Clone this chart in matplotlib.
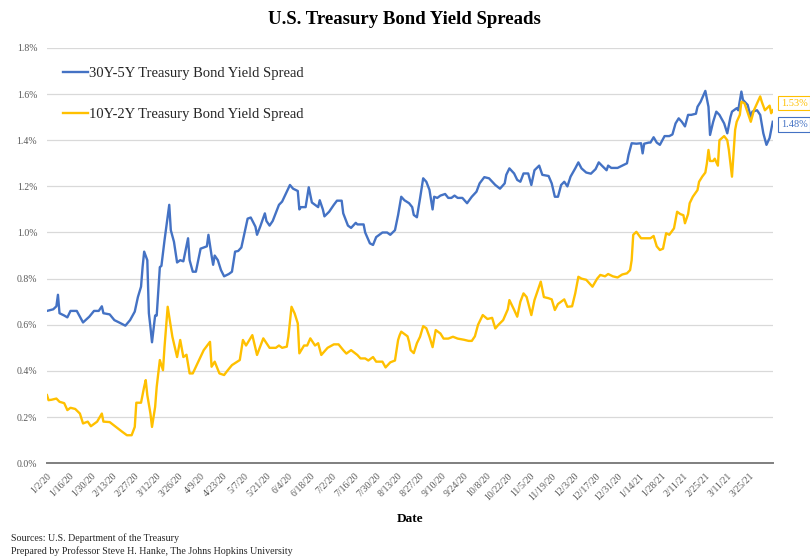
import matplotlib
matplotlib.use("Agg")
import matplotlib.pyplot as plt
import pandas as pd

# 30Y-5Y Treasury spread (percentage points)
spread_30y5y_dates = [
    "2020-01-02", "2020-01-06", "2020-01-08", "2020-01-09", "2020-01-10", "2020-01-13", "2020-01-15",
    "2020-01-17", "2020-01-21", "2020-01-25", "2020-01-29", "2020-02-01", "2020-02-04", "2020-02-06",
    "2020-02-07", "2020-02-11", "2020-02-14", "2020-02-17", "2020-02-21", "2020-02-24", "2020-02-27",
    "2020-02-29", "2020-03-02", "2020-03-03", "2020-03-04", "2020-03-06", "2020-03-07", "2020-03-08",
    "2020-03-09", "2020-03-11", "2020-03-12", "2020-03-14", "2020-03-15", "2020-03-17", "2020-03-20",
    "2020-03-21", "2020-03-23", "2020-03-25", "2020-03-27", "2020-03-29", "2020-04-01", "2020-04-02",
    "2020-04-04", "2020-04-06", "2020-04-09", "2020-04-13", "2020-04-14", "2020-04-16", "2020-04-17",
    "2020-04-18", "2020-04-20", "2020-04-22", "2020-04-24", "2020-04-27", "2020-04-29", "2020-05-01",
    "2020-05-03", "2020-05-05", "2020-05-08", "2020-05-09", "2020-05-11", "2020-05-14", "2020-05-15",
    "2020-05-17", "2020-05-20", "2020-05-21", "2020-05-23", "2020-05-25", "2020-05-29", "2020-05-31",
    "2020-06-03", "2020-06-05", "2020-06-07", "2020-06-10", "2020-06-11", "2020-06-12", "2020-06-15",
    "2020-06-17", "2020-06-19", "2020-06-21", "2020-06-23", "2020-06-24", "2020-06-26", "2020-06-27",
    "2020-06-30", "2020-07-03", "2020-07-05", "2020-07-08", "2020-07-09", "2020-07-12", "2020-07-14",
    "2020-07-17", "2020-07-18", "2020-07-22", "2020-07-23", "2020-07-26", "2020-07-28", "2020-07-30",
    "2020-08-03", "2020-08-06", "2020-08-08", "2020-08-11", "2020-08-13", "2020-08-15", "2020-08-17",
    "2020-08-20", "2020-08-22", "2020-08-23", "2020-08-25", "2020-08-27", "2020-08-29", "2020-08-31",
    "2020-09-02", "2020-09-04", "2020-09-05", "2020-09-07", "2020-09-09", "2020-09-12", "2020-09-14",
    "2020-09-16", "2020-09-18", "2020-09-20", "2020-09-23", "2020-09-26", "2020-09-29", "2020-10-02",
    "2020-10-04", "2020-10-07", "2020-10-10", "2020-10-14", "2020-10-17", "2020-10-20", "2020-10-21",
    "2020-10-23", "2020-10-26", "2020-10-28", "2020-10-30", "2020-11-01", "2020-11-04", "2020-11-06",
    "2020-11-08", "2020-11-11", "2020-11-13", "2020-11-17", "2020-11-19", "2020-11-21", "2020-11-23",
    "2020-11-25", "2020-11-27", "2020-11-29", "2020-12-01", "2020-12-04", "2020-12-06", "2020-12-08",
    "2020-12-11", "2020-12-14", "2020-12-17", "2020-12-19", "2020-12-21", "2020-12-24", "2020-12-25",
    "2020-12-27", "2020-12-31", "2021-01-03", "2021-01-06", "2021-01-07", "2021-01-09", "2021-01-12",
    "2021-01-15", "2021-01-16", "2021-01-17", "2021-01-20", "2021-01-21", "2021-01-23", "2021-01-25",
    "2021-01-27", "2021-01-30", "2021-02-02", "2021-02-04", "2021-02-06", "2021-02-08", "2021-02-10",
    "2021-02-12", "2021-02-14", "2021-02-16", "2021-02-19", "2021-02-20", "2021-02-22", "2021-02-25",
    "2021-02-27", "2021-02-28", "2021-03-02", "2021-03-04", "2021-03-06", "2021-03-09", "2021-03-11",
    "2021-03-13", "2021-03-14", "2021-03-17", "2021-03-18", "2021-03-20", "2021-03-21", "2021-03-24",
    "2021-03-26", "2021-03-27", "2021-03-30", "2021-04-01", "2021-04-03", "2021-04-05", "2021-04-07",
    "2021-04-09",
]
spread_30y5y = [
    0.66, 0.667, 0.68, 0.73, 0.65, 0.64, 0.632,
    0.66, 0.66, 0.61, 0.635, 0.66, 0.66, 0.68,
    0.65, 0.645, 0.62, 0.61, 0.596, 0.62, 0.657,
    0.72, 0.765, 0.85, 0.917, 0.88, 0.65, 0.59,
    0.524, 0.64, 0.64, 0.85, 0.855, 0.967, 1.12,
    1.01, 0.96, 0.87, 0.88, 0.875, 0.975, 0.88,
    0.83, 0.83, 0.93, 0.94, 0.99, 0.90, 0.86,
    0.90, 0.88, 0.837, 0.81, 0.82, 0.83, 0.917,
    0.92, 0.935, 1.03, 1.06, 1.065, 1.025, 0.99,
    1.025, 1.083, 1.05, 1.03, 1.05, 1.12, 1.134,
    1.177, 1.206, 1.19, 1.18, 1.10, 1.11, 1.11,
    1.196, 1.13, 1.12, 1.11, 1.14, 1.10, 1.07,
    1.09, 1.12, 1.138, 1.138, 1.083, 1.03, 1.02,
    1.042, 1.035, 1.035, 1.0, 0.953, 0.946, 0.98,
    1.0, 1.0, 0.99, 1.01, 1.076, 1.155, 1.14,
    1.127, 1.11, 1.076, 1.066, 1.148, 1.235, 1.22,
    1.185, 1.10, 1.155, 1.15, 1.16, 1.167, 1.15,
    1.15, 1.16, 1.15, 1.15, 1.127, 1.155, 1.177,
    1.213, 1.24, 1.235, 1.206, 1.19, 1.213, 1.25,
    1.278, 1.256, 1.228, 1.22, 1.256, 1.256, 1.206,
    1.27, 1.29, 1.25, 1.245, 1.213, 1.155, 1.155,
    1.206, 1.22, 1.20, 1.242, 1.278, 1.304, 1.278,
    1.26, 1.255, 1.275, 1.304, 1.29, 1.27, 1.29,
    1.28, 1.28, 1.29, 1.30, 1.336, 1.387, 1.385,
    1.387, 1.343, 1.385, 1.39, 1.39, 1.413, 1.39,
    1.38, 1.418, 1.418, 1.425, 1.473, 1.495, 1.48,
    1.46, 1.51, 1.51, 1.515, 1.545, 1.567, 1.614,
    1.545, 1.423, 1.48, 1.524, 1.51, 1.473, 1.43,
    1.50, 1.524, 1.539, 1.53, 1.611, 1.575, 1.553,
    1.50, 1.524, 1.53, 1.51, 1.43, 1.38, 1.41,
    1.48,
]

# 10Y-2Y Treasury spread (percentage points)
spread_10y2y_dates = [
    "2020-01-02", "2020-01-03", "2020-01-05", "2020-01-08", "2020-01-10", "2020-01-13", "2020-01-15",
    "2020-01-17", "2020-01-20", "2020-01-23", "2020-01-25", "2020-01-28", "2020-01-30", "2020-02-01",
    "2020-02-03", "2020-02-06", "2020-02-07", "2020-02-11", "2020-02-15", "2020-02-19", "2020-02-22",
    "2020-02-25", "2020-02-27", "2020-02-28", "2020-03-02", "2020-03-04", "2020-03-05", "2020-03-06",
    "2020-03-08", "2020-03-09", "2020-03-11", "2020-03-12", "2020-03-14", "2020-03-16", "2020-03-17",
    "2020-03-19", "2020-03-22", "2020-03-24", "2020-03-25", "2020-03-27", "2020-03-29", "2020-03-31",
    "2020-04-02", "2020-04-04", "2020-04-08", "2020-04-11", "2020-04-15", "2020-04-16", "2020-04-18",
    "2020-04-21", "2020-04-24", "2020-04-26", "2020-04-29", "2020-05-04", "2020-05-06", "2020-05-08",
    "2020-05-12", "2020-05-15", "2020-05-19", "2020-05-23", "2020-05-27", "2020-05-29", "2020-05-31",
    "2020-06-03", "2020-06-04", "2020-06-06", "2020-06-08", "2020-06-10", "2020-06-11", "2020-06-14",
    "2020-06-16", "2020-06-18", "2020-06-21", "2020-06-23", "2020-06-25", "2020-06-29", "2020-07-03",
    "2020-07-06", "2020-07-09", "2020-07-11", "2020-07-14", "2020-07-18", "2020-07-20", "2020-07-23",
    "2020-07-25", "2020-07-28", "2020-07-30", "2020-08-03", "2020-08-05", "2020-08-08", "2020-08-11",
    "2020-08-13", "2020-08-14", "2020-08-15", "2020-08-19", "2020-08-20", "2020-08-21", "2020-08-23",
    "2020-08-25", "2020-08-27", "2020-08-29", "2020-08-31", "2020-09-02", "2020-09-04", "2020-09-06",
    "2020-09-09", "2020-09-11", "2020-09-14", "2020-09-17", "2020-09-20", "2020-09-24", "2020-09-27",
    "2020-09-29", "2020-10-01", "2020-10-03", "2020-10-06", "2020-10-09", "2020-10-12", "2020-10-14",
    "2020-10-16", "2020-10-19", "2020-10-22", "2020-10-23", "2020-10-26", "2020-10-28", "2020-10-30",
    "2020-11-01", "2020-11-03", "2020-11-06", "2020-11-08", "2020-11-12", "2020-11-14", "2020-11-17",
    "2020-11-19", "2020-11-21", "2020-11-23", "2020-11-27", "2020-11-29", "2020-12-02", "2020-12-04",
    "2020-12-06", "2020-12-08", "2020-12-11", "2020-12-15", "2020-12-18", "2020-12-20", "2020-12-23",
    "2020-12-25", "2020-12-28", "2020-12-31", "2021-01-03", "2021-01-06", "2021-01-08", "2021-01-09",
    "2021-01-10", "2021-01-12", "2021-01-15", "2021-01-18", "2021-01-21", "2021-01-23", "2021-01-25",
    "2021-01-27", "2021-01-29", "2021-01-31", "2021-02-02", "2021-02-05", "2021-02-07", "2021-02-09",
    "2021-02-11", "2021-02-12", "2021-02-14", "2021-02-15", "2021-02-17", "2021-02-20", "2021-02-21",
    "2021-02-23", "2021-02-25", "2021-02-26", "2021-02-27", "2021-02-28", "2021-03-02", "2021-03-03",
    "2021-03-05", "2021-03-06", "2021-03-09", "2021-03-11", "2021-03-12", "2021-03-14", "2021-03-16",
    "2021-03-17", "2021-03-19", "2021-03-20", "2021-03-22", "2021-03-25", "2021-03-26", "2021-03-28",
    "2021-03-30", "2021-04-01", "2021-04-02", "2021-04-04", "2021-04-07", "2021-04-08", "2021-04-09",
]
spread_10y2y = [
    0.295, 0.273, 0.275, 0.28, 0.266, 0.26, 0.23,
    0.24, 0.235, 0.215, 0.172, 0.18, 0.16, 0.17,
    0.18, 0.215, 0.18, 0.178, 0.157, 0.136, 0.121,
    0.121, 0.157, 0.262, 0.262, 0.331, 0.36, 0.295,
    0.215, 0.157, 0.244, 0.331, 0.447, 0.403, 0.505,
    0.678, 0.548, 0.49, 0.46, 0.534, 0.46, 0.47,
    0.389, 0.389, 0.447, 0.49, 0.526, 0.418, 0.44,
    0.389, 0.382, 0.40, 0.425, 0.447, 0.534, 0.51,
    0.555, 0.469, 0.541, 0.50, 0.50, 0.51, 0.50,
    0.505, 0.548, 0.678, 0.649, 0.606, 0.476, 0.51,
    0.51, 0.541, 0.51, 0.52, 0.469, 0.50, 0.515,
    0.515, 0.49, 0.475, 0.49, 0.469, 0.454, 0.454,
    0.445, 0.46, 0.44, 0.44, 0.415, 0.437, 0.445,
    0.534, 0.555, 0.57, 0.55, 0.526, 0.49, 0.477,
    0.52, 0.548, 0.594, 0.585, 0.548, 0.503, 0.577,
    0.562, 0.54, 0.54, 0.548, 0.54, 0.535, 0.53,
    0.53, 0.55, 0.60, 0.642, 0.625, 0.63, 0.584,
    0.60, 0.62, 0.667, 0.707, 0.665, 0.635, 0.70,
    0.736, 0.72, 0.642, 0.707, 0.787, 0.72, 0.715,
    0.71, 0.664, 0.69, 0.71, 0.678, 0.68, 0.736,
    0.808, 0.80, 0.795, 0.765, 0.80, 0.816, 0.81,
    0.82, 0.81, 0.805, 0.818, 0.823, 0.837, 0.88,
    0.99, 1.003, 0.975, 0.975, 0.975, 0.985, 0.94,
    0.924, 0.93, 0.997, 0.99, 1.018, 1.09, 1.08,
    1.075, 1.04, 1.08, 1.127, 1.155, 1.184, 1.22,
    1.242, 1.26, 1.30, 1.358, 1.31, 1.31, 1.32,
    1.29, 1.40, 1.418, 1.40, 1.358, 1.242, 1.445,
    1.48, 1.51, 1.567, 1.56, 1.50, 1.48, 1.53,
    1.56, 1.59, 1.567, 1.53, 1.55, 1.517, 1.53,
]

series_names = ["30Y-5Y Treasury Bond Yield Spread", "10Y-2Y Treasury Bond Yield Spread"]
series_colors = ["#4472C4", "#FFC000"]
end_labels = ["1.48%", "1.53%"]

y_ticks = [0.0, 0.2, 0.4, 0.6, 0.8, 1.0, 1.2, 1.4, 1.6, 1.8]
x_tick_labels = [
    "1/2/20", "1/16/20", "1/30/20", "2/13/20", "2/27/20", "3/12/20", "3/26/20", "4/9/20",
    "4/23/20", "5/7/20", "5/21/20", "6/4/20", "6/18/20", "7/2/20", "7/16/20", "7/30/20",
    "8/13/20", "8/27/20", "9/10/20", "9/24/20", "10/8/20", "10/22/20", "11/5/20", "11/19/20",
    "12/3/20", "12/17/20", "12/31/20", "1/14/21", "1/28/21", "2/11/21", "2/25/21", "3/11/21",
    "3/25/21",
]

plt.rcParams["font.family"] = "Liberation Serif"

fig = plt.figure(figsize=(8.1, 5.58), dpi=100)
ax = fig.add_axes([0.058, 0.170, 0.896, 0.744])

d_blue = pd.to_datetime(spread_30y5y_dates)
d_yel = pd.to_datetime(spread_10y2y_dates)

l_blue, = ax.plot(d_blue, spread_30y5y, color=series_colors[0], lw=1.7, solid_joinstyle="round")
l_yel, = ax.plot(d_yel, spread_10y2y, color=series_colors[1], lw=1.7, solid_joinstyle="round")

ax.set_ylim(0, 1.8)
ax.set_yticks(y_ticks)
ax.set_yticklabels([f"{v:.1f}%" for v in y_ticks])
ax.set_xlim(d_blue[0], d_blue[-1])

tick_dates = pd.to_datetime(x_tick_labels, format="%m/%d/%y")
ax.set_xticks(tick_dates)
ax.set_xticklabels(x_tick_labels, rotation=45, ha="right", va="top",
                   rotation_mode="anchor", fontsize=7, color="#595959")
ax.tick_params(axis="x", length=0, pad=6)
ax.tick_params(axis="y", length=0, pad=7, labelsize=7, labelcolor="#595959")

ax.grid(axis="y", color="#D9D9D9", lw=0.9)
ax.set_axisbelow(True)
for side in ["top", "right", "left"]:
    ax.spines[side].set_visible(False)
ax.spines["bottom"].set_color("#7F7F7F")
ax.spines["bottom"].set_linewidth(1.4)

ax.set_xlabel("Date", fontsize=9.5, fontweight="bold", labelpad=8)

leg = ax.legend([l_blue, l_yel], series_names, loc="upper left",
                bbox_to_anchor=(-0.004, 1.0), frameon=False, fontsize=10.5,
                handlelength=1.7, handletextpad=0.05, labelspacing=1.9,
                borderaxespad=0.9)
for t in leg.get_texts():
    t.set_color("#262626")

# value tags at the right end of each line
ax.annotate(end_labels[1], xy=(d_yel[-1], spread_10y2y[-1]), xytext=(6, 5),
            textcoords="offset points", fontsize=7.5, color=series_colors[1],
            va="center", ha="left", annotation_clip=False,
            bbox=dict(boxstyle="square,pad=0.25", fc="white", ec=series_colors[1], lw=0.8))
ax.annotate(end_labels[0], xy=(d_blue[-1], spread_30y5y[-1]), xytext=(6, -2),
            textcoords="offset points", fontsize=7.5, color=series_colors[0],
            va="center", ha="left", annotation_clip=False,
            bbox=dict(boxstyle="square,pad=0.25", fc="white", ec=series_colors[0], lw=0.8))

fig.text(0.499, 0.965, "U.S. Treasury Bond Yield Spreads", ha="center", va="center",
         fontsize=13.5, fontweight="bold")
fig.text(0.014, 0.036, "Sources: U.S. Department of the Treasury", fontsize=7.2,
         va="center", color="#262626")
fig.text(0.014, 0.012, "Prepared by Professor Steve H. Hanke, The Johns Hopkins University",
         fontsize=7.2, va="center", color="#262626")

fig.savefig("out.png", dpi=100)
